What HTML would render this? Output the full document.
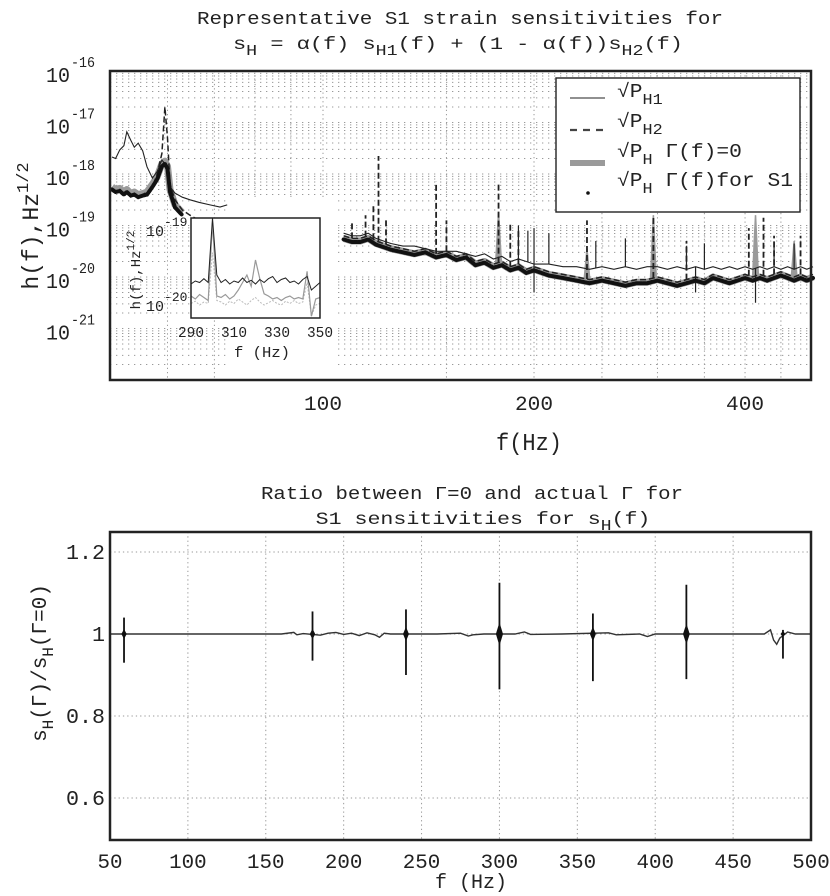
<!DOCTYPE html>
<html><head><meta charset="utf-8"><style>
html,body{margin:0;padding:0;background:#fff;}
svg{display:block;font-family:"Liberation Mono","DejaVu Sans Mono",monospace;}
</style></head><body>
<svg id="fig" width="830" height="896" viewBox="0 0 830 896" xmlns="http://www.w3.org/2000/svg">
<rect x="0" y="0" width="830" height="896" fill="#fff"/>
<g id="top"></g>
<g id="bot"></g>
</svg>
<script>
// ---------- TOP CHART DATA (log10 of h(f)) ----------
const leftF  = [50,50.6,51.3,52,52.5,53.2,53.8,54.5,55.3,56.1,57.1,58,58.9,59.5,60,60.5,61.5,63,64.6,66.5,69,71.3,73];
const leftH1 = [-17.67,-17.7,-17.53,-17.45,-17.18,-17.35,-17.48,-17.4,-17.55,-17.86,-18.08,-17.95,-17.73,-17.8,-17.9,-18.25,-18.37,-18.45,-18.5,-18.55,-18.6,-18.64,-18.6];
const leftH2 = [-18.3,-18.35,-18.3,-18.4,-18.35,-18.4,-18.38,-18.45,-18.4,-18.35,-18.25,-18.0,-17.6,-16.7,-17.3,-18.2,-18.5,-18.7,-18.8,-18.9,null,null,null];
const leftG0 = [-18.25,-18.3,-18.28,-18.35,-18.3,-18.38,-18.35,-18.4,-18.38,-18.35,-18.2,-18.05,-17.8,-17.75,-17.85,-18.3,-18.6,-18.75,null,null,null,null,null];
const leftS1 = [-18.3,-18.35,-18.33,-18.4,-18.35,-18.42,-18.4,-18.45,-18.42,-18.4,-18.25,-18.1,-17.85,-17.8,-17.9,-18.35,-18.65,-18.8,null,null,null,null,null];

const rightF  = [107,110,113,116,119,122,125,130,135,140,145,150,155,160,165,170,175,180,185,190,195,200,210,220,230,240,250,260,270,280,290,300,310,320,330,340,350,360,370,380,390,400,410,420,430,440,450,460,470,480,490,500];
const rightG0 = [-19.25,-19.3,-19.3,-19.25,-19.35,-19.4,-19.45,-19.5,-19.55,-19.5,-19.6,-19.55,-19.65,-19.6,-19.75,-19.7,-19.8,-19.75,-19.85,-19.8,-19.9,-19.85,-19.95,-20.0,-20.05,-20.1,-20.05,-20.1,-20.15,-20.1,-20.1,-20.05,-20.1,-20.15,-20.1,-20.05,-20.1,-20.0,-20.05,-20.1,-20.05,-20.0,-20.05,-20.0,-20.05,-20.0,-19.95,-20.0,-20.05,-20.0,-20.05,-20.0];
const rightS1 = [-19.27,-19.32,-19.32,-19.27,-19.37,-19.42,-19.47,-19.52,-19.57,-19.52,-19.62,-19.57,-19.67,-19.62,-19.77,-19.72,-19.82,-19.77,-19.87,-19.82,-19.92,-19.87,-19.97,-20.02,-20.07,-20.12,-20.07,-20.12,-20.17,-20.12,-20.12,-20.07,-20.12,-20.17,-20.12,-20.07,-20.12,-20.02,-20.07,-20.12,-20.07,-20.02,-20.07,-20.02,-20.07,-20.02,-19.97,-20.02,-20.07,-20.02,-20.07,-20.02];
const rightH1 = [-19.15,-19.2,-19.2,-19.15,-19.25,-19.3,-19.35,-19.4,-19.4,-19.45,-19.5,-19.5,-19.5,-19.55,-19.6,-19.55,-19.65,-19.6,-19.7,-19.65,-19.7,-19.75,-19.75,-19.8,-19.8,-19.85,-19.8,-19.85,-19.8,-19.85,-19.8,-19.8,-19.85,-19.8,-19.85,-19.8,-19.85,-19.8,-19.85,-19.8,-19.85,-19.8,-19.85,-19.8,-19.85,-19.8,-19.85,-19.8,-19.85,-19.8,-19.85,-19.8];
const rightH2 = [-19.2,-19.25,-19.25,-19.2,-19.3,-19.35,-19.4,-19.45,-19.5,-19.45,-19.55,-19.5,-19.6,-19.55,-19.7,-19.65,-19.75,-19.7,-19.8,-19.75,-19.85,-19.8,-19.9,-19.95,-20.0,-20.05,-20.0,-20.05,-20.1,-20.05,-20.05,-20.0,-20.05,-20.1,-20.05,-20.0,-20.05,-19.95,-20.0,-20.05,-20.0,-19.95,-20.0,-19.95,-20.0,-19.95,-19.9,-19.95,-20.0,-19.95,-20.0,-19.95];

const spikeH2F   = [110,115,118,120,123,145,150,178,185,190,238,296,330,405,425,440,480];
const spikeH2Top = [-18.9,-18.8,-18.6,-17.65,-18.9,-18.15,-18.9,-18.2,-18.95,-19.05,-18.9,-18.85,-19.3,-19.05,-18.85,-19.2,-19.2];
const spikeGF    = [178,238,296,414,470];
const spikeGTop  = [-18.75,-19.45,-18.8,-18.8,-19.3];
const spikeH1F   = [190,196,200,210,245,270,330,350,440,470,200,340,414];
const spikeH1Top = [-19.0,-19.1,-19.05,-19.15,-19.3,-19.25,-19.4,-19.35,-19.4,-19.35,-20.3,-20.3,-20.5];

const yTickExp = [-16,-17,-18,-19,-20,-21];
const xTickLabels = [100,200,400];

// inset
const insetF  = [290,292,294,296,298,300,302,304,306,308,310,312,314,316,318,320,322,324,326,328,330,332,334,336,338,340,342,344,346,348,350];
const insetH1 = [-19.72,-19.68,-19.7,-19.65,-19.7,-18.84,-19.6,-19.7,-19.66,-19.72,-19.68,-19.7,-19.64,-19.7,-19.67,-19.72,-19.66,-19.7,-19.65,-19.62,-19.7,-19.66,-19.64,-19.7,-19.68,-19.72,-19.66,-19.62,-19.8,-19.75,-19.7];
const insetG  = [-19.88,-19.92,-19.86,-19.9,-19.94,-18.9,-19.88,-19.9,-19.86,-19.92,-19.88,-19.8,-19.7,-19.6,-19.75,-19.4,-19.65,-19.85,-19.88,-19.92,-19.9,-19.94,-19.9,-19.88,-19.92,-19.9,-19.92,-19.55,-20.15,-19.92,-19.9];
const insetL  = [-19.98,-19.95,-20.0,-19.96,-19.98,-19.3,-19.94,-19.96,-20.0,-19.95,-19.98,-19.92,-19.96,-20.0,-19.94,-19.9,-19.96,-20.0,-19.97,-19.94,-19.98,-20.0,-19.95,-19.98,-19.94,-19.98,-19.96,-19.7,-20.15,-20.0,-19.98];
const insetXTicks = [290,310,330,350];

// ---------- BOTTOM CHART DATA ----------
const noiseF = [50,70,100,130,160,168,170,174,185,190,195,200,205,210,215,220,223,226,230,260,275,280,283,290,310,316,320,340,370,375,390,395,400,410,440,470,474,476,478,480,485,490,500];
const noiseV = [1,1,1,1,1,1.004,0.998,1.001,0.997,1.002,1.004,0.999,1.002,0.996,1.003,0.998,0.992,1.002,1,1,1.002,0.995,0.998,1,1,1.005,0.999,1,1.003,0.998,1,0.994,1,1,1,1,1.01,0.985,0.975,0.99,1.005,1,1];
const burstF    = [59,180,240,300,360,420,482];
const burstUp   = [1.04,1.055,1.06,1.125,1.05,1.12,1.01];
const burstDown = [0.93,0.935,0.9,0.865,0.885,0.89,0.94];
const botXTicks = [50,100,150,200,250,300,350,400,450,500];
const botYTicks = [1.2,1,0.8,0.6];
const botYLabels = ["1.2","1","0.8","0.6"];

const NS = "http://www.w3.org/2000/svg";
function el(tag, attrs, parent){const e=document.createElementNS(NS,tag);for(const k in attrs)e.setAttribute(k,attrs[k]);parent.appendChild(e);return e;}
function txt(parent,x,y,s,size,anchor){const t=el('text',{x:x,y:y,'font-size':size,'text-anchor':anchor||'start',fill:'#222'},parent);t.textContent=s;return t;}
function fit(t,len){t.setAttribute('textLength',len);t.setAttribute('lengthAdjust','spacingAndGlyphs');}
// horizontally stretched group around cx
function sgroup(parent,cx,sx){return el('g',{transform:`translate(${cx},0) scale(${sx},1) translate(${-cx},0)`},parent);}

// ---------- TOP ----------
const T = document.getElementById('top');
const L=110,R=811,TP=71,BT=380;
const xs = f => 323 + 701*Math.log10(f/100);
const ys = v => TP + (-16 - v)*51.5;

const grid=el('g',{},T);


for(let d=-22; d<-16; d++){
  for(let m=1;m<10;m++){
    const v=d+Math.log10(m); const y=ys(v);
    if(y<=TP+1||y>=BT-1) continue;
    el('line',{x1:L,x2:R,y1:y,y2:y,stroke:'#9a9a9a','stroke-width':1,'stroke-dasharray':'1.3 4.7'},grid);
  }
}
[60,70,80,90,100,150,200,250,300,350,400,450].forEach(f=>{
  const x=xs(f); el('line',{x1:x,x2:x,y1:TP,y2:BT,stroke:'#9a9a9a','stroke-width':1,'stroke-dasharray':'1.3 3'},grid);
});
el('rect',{x:227,y:200,width:108,height:179,fill:'#fff'},T);

function pathFrom(F,V,sx,sy){let d='',pen=false;for(let i=0;i<F.length;i++){if(V[i]===null){pen=false;continue;}d+=(pen?'L':'M')+sx(F[i]).toFixed(1)+','+sy(V[i]).toFixed(1);pen=true;}return d;}
function interp(F,V,f){for(let i=0;i<F.length-1;i++){if(f>=F[i]&&f<=F[i+1]){const t=(f-F[i])/(F[i+1]-F[i]);return V[i]+t*(V[i+1]-V[i]);}}return V[V.length-1];}

const series=el('g',{},T);
const g0a=el('path',{d:pathFrom(leftF,leftG0,xs,ys)+pathFrom(rightF,rightG0,xs,ys),fill:'none',stroke:'#9a9a9a','stroke-width':7,'stroke-linejoin':'round'},series);


spikeGF.forEach((f,i)=>{const b=interp(rightF,rightG0,f);const s=el('path',{d:`M${xs(f)-3},${ys(b)} L${xs(f)},${ys(spikeGTop[i])} L${xs(f)+3},${ys(b)}Z`,fill:'#9a9a9a',stroke:'#9a9a9a','stroke-width':1.5},series);

});
const h2=el('path',{d:pathFrom(leftF,leftH2,xs,ys)+pathFrom(rightF,rightH2,xs,ys),fill:'none',stroke:'#222','stroke-width':1.5,'stroke-dasharray':'6 3'},series);


spikeH2F.forEach((f,i)=>{const b=interp(rightF,rightH2,f);const s=el('line',{x1:xs(f),x2:xs(f),y1:ys(b),y2:ys(spikeH2Top[i]),stroke:'#222','stroke-width':1.8,'stroke-dasharray':'6 3'},series);

});
const h1=el('path',{d:pathFrom(leftF,leftH1,xs,ys)+pathFrom(rightF,rightH1,xs,ys),fill:'none',stroke:'#222','stroke-width':1.1},series);


spikeH1F.forEach((f,i)=>{const b=interp(rightF,rightH1,f);const s=el('line',{x1:xs(f),x2:xs(f),y1:ys(b),y2:ys(spikeH1Top[i]),stroke:'#222','stroke-width':1.2},series);

});
const s1=el('path',{d:pathFrom(leftF,leftS1,xs,ys)+pathFrom(rightF,rightS1,xs,ys),fill:'none',stroke:'#111','stroke-width':4,'stroke-dasharray':'2.5 1.2','stroke-linecap':'round'},series);



const fr=el('rect',{x:L,y:TP,width:R-L,height:BT-TP,fill:'none',stroke:'#222','stroke-width':2.5},T);



yTickExp.forEach(e=>{const y=ys(e);
  const g=el('g',{},T);
  
  
  fit(txt(g,46,y+11,'10',21),24);
  fit(txt(g,71,y-4,String(e),15),24);
});
xTickLabels.forEach(f=>{const t=txt(T,xs(f),410,String(f),20,'middle');
fit(t,38);

});
const xt=txt(T,529,450,'f(Hz)',24,'middle');
fit(xt,66);


const yt=el('text',{transform:'translate(38,226) rotate(-90)','font-size':23,'text-anchor':'middle',fill:'#222'},T);


yt.innerHTML='h(f),Hz<tspan dy="-10" font-size="17">1/2</tspan>';

const t1=txt(T,460,24,'Representative S1 strain sensitivities for',18,'middle');
fit(t1,526);


const t2g=sgroup(T,458,1.22);
const t2=el('text',{x:458,y:49,'font-size':18,'text-anchor':'middle',fill:'#222'},t2g);


t2.innerHTML='s<tspan dy="6" font-size="15">H</tspan><tspan dy="-6"> = α(f) s</tspan><tspan dy="6" font-size="15">H1</tspan><tspan dy="-6">(f) + (1 - α(f))s</tspan><tspan dy="6" font-size="15">H2</tspan><tspan dy="-6">(f)</tspan>';

const lg=el('g',{},T);


el('rect',{x:556,y:78,width:244,height:134,fill:'#fff',stroke:'#222','stroke-width':1.4},lg);
el('line',{x1:570,x2:605,y1:98,y2:98,stroke:'#222','stroke-width':1},lg);
el('line',{x1:570,x2:605,y1:130,y2:130,stroke:'#444','stroke-width':2.2,'stroke-dasharray':'7 6'},lg);
el('line',{x1:570,x2:605,y1:163,y2:163,stroke:'#9a9a9a','stroke-width':6},lg);
el('circle',{cx:588,cy:193,r:1.8,fill:'#111'},lg);
const legTexts=[['√P','H1','',97],['√P','H2','',127],['√P','H',' Γ(f)=0',157],['√P','H',' Γ(f)for S1',186]];
const lgs=sgroup(lg,617,1.12);
legTexts.forEach(a=>{const t=el('text',{x:617,y:a[3],'font-size':19,fill:'#222'},lgs);


t.innerHTML=a[0]+'<tspan dy="7" font-size="15">'+a[1]+'</tspan><tspan dy="-7">'+a[2]+'</tspan>';});

// inset
const IN=el('g',{},T);


const IL=191,IR=320,IT=218,IB=318;
const ixs=f=>IL+(f-290)/60*(IR-IL);
const iys=v=>IT+(-18.84-v)*75;
el('rect',{x:IL,y:IT,width:IR-IL,height:IB-IT,fill:'#fff'},IN);
const cp=el('clipPath',{id:'ic'},IN);el('rect',{x:IL,y:IT,width:IR-IL,height:IB-IT},cp);
const ig=el('g',{'clip-path':'url(#ic)'},IN);
el('path',{d:pathFrom(insetF,insetL,ixs,iys),fill:'none',stroke:'#bbb','stroke-width':1,'stroke-dasharray':'2 1.5'},ig);
el('path',{d:pathFrom(insetF,insetG,ixs,iys),fill:'none',stroke:'#999','stroke-width':1.2},ig);
el('path',{d:pathFrom(insetF,insetH1,ixs,iys),fill:'none',stroke:'#222','stroke-width':1},ig);
el('rect',{x:IL,y:IT,width:IR-IL,height:IB-IT,fill:'none',stroke:'#222','stroke-width':1.5},IN);
insetXTicks.forEach(f=>{const t=txt(IN,ixs(f),337,String(f),15,'middle');
fit(t,26);

});
fit(txt(IN,262,357,'f (Hz)',15,'middle'),56);
const i1=el('text',{x:146,y:236,'font-size':15,fill:'#222'},IN);i1.innerHTML='10<tspan dy="-10" font-size="13">-19</tspan>';
const i2=el('text',{x:146,y:311,'font-size':15,fill:'#222'},IN);i2.innerHTML='10<tspan dy="-10" font-size="13">-20</tspan>';
const iy=el('text',{transform:'translate(140,270) rotate(-90)','font-size':14,'text-anchor':'middle',fill:'#222'},IN);
iy.innerHTML='h(f),Hz<tspan dy="-6" font-size="11">1/2</tspan>';

// ---------- BOTTOM ----------
const B=document.getElementById('bot');
const BL=110,BR=811,BTp=532,BBt=840;
const bx=f=>BL+(f-50)/450*(BR-BL);
const by=v=>634-(v-1)*410;
const bg=el('g',{},B);


botYTicks.forEach(v=>el('line',{x1:BL,x2:BR,y1:by(v),y2:by(v),stroke:'#999','stroke-width':1,'stroke-dasharray':'1.3 3'},bg));
botXTicks.forEach(f=>{if(f>50&&f<500)el('line',{x1:bx(f),x2:bx(f),y1:BTp,y2:BBt,stroke:'#999','stroke-width':1,'stroke-dasharray':'1.3 3'},bg);});
const base=el('path',{d:pathFrom(noiseF,noiseV,bx,by),fill:'none',stroke:'#333','stroke-width':1.4},B);


burstF.forEach((f,i)=>{
  const x=bx(f);
  const g=el('g',{},B);
  
  
  const amp=(burstUp[i]-burstDown[i]);
  const w=2+amp*6, h=amp*45;
  el('path',{d:`M${x-w},634 L${x},${634-h} L${x+w},634 L${x},${634+h}Z`,fill:'#111'},g);
  el('line',{x1:x,x2:x,y1:by(burstUp[i]),y2:by(burstDown[i]),stroke:'#111','stroke-width':1.8},g);
});
const bf=el('rect',{x:BL,y:BTp,width:BR-BL,height:BBt-BTp,fill:'none',stroke:'#222','stroke-width':2.5},B);


botXTicks.forEach(f=>{const s=String(f);const t=txt(B,bx(f),868,s,20,'middle');
fit(t,s.length*12.5);

});
botYTicks.forEach((v,i)=>{const s=botYLabels[i];const t=txt(B,105,by(v)+7,s,21,'end');
fit(t,s.length*13);

});
const bxt=txt(B,471,888,'f (Hz)',20,'middle');
fit(bxt,72);


const byt=el('text',{transform:'translate(46,663) rotate(-90)','font-size':21,'text-anchor':'middle',fill:'#222'},B);


byt.innerHTML='s<tspan dy="7" font-size="16">H</tspan><tspan dy="-7">(Γ)/s</tspan><tspan dy="7" font-size="16">H</tspan><tspan dy="-7">(Γ=0)</tspan>';
const bt1=txt(B,472,499,'Ratio between Γ=0 and actual Γ for',18,'middle');
fit(bt1,422);


const bt2g=sgroup(B,483,1.2);
const bt2=el('text',{x:483,y:524,'font-size':18,'text-anchor':'middle',fill:'#222'},bt2g);


bt2.innerHTML='S1 sensitivities for s<tspan dy="6" font-size="15">H</tspan><tspan dy="-6">(f)</tspan>';
</script>
</body></html>
